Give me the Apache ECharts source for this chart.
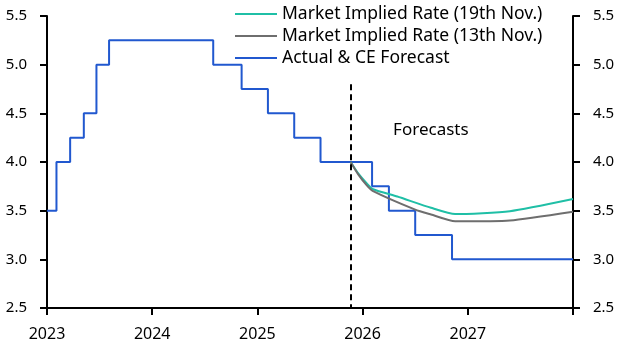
<!DOCTYPE html>
<html>
<head>
    <meta charset="utf-8" />
    <title>Policy rate</title>
    <script src="https://cdn.jsdelivr.net/npm/echarts@6/dist/echarts.min.js"></script>
    <style>
        html, body { margin: 0; padding: 0; background: #fff; }
        #chart { width: 628px; height: 353px; }
    </style>
</head>
<body>
    <div id="chart"></div>
    <script type="text/javascript">
        // 实际利率及CE预测（阶梯）: [年份小数, 利率]
        const actualCE = [
            [2023.0, 3.5], [2023.09, 4.0], [2023.22, 4.25], [2023.35, 4.5],
            [2023.47, 5.0], [2023.59, 5.25], [2024.58, 5.0], [2024.85, 4.75],
            [2025.10, 4.5], [2025.35, 4.25], [2025.60, 4.0], [2026.09, 3.75],
            [2026.25, 3.5], [2026.50, 3.25], [2026.85, 3.0], [2028.0, 3.0]
        ];
        // 市场隐含利率 19th Nov.
        const implied19 = [
            [2025.886, 4.0], [2025.96, 3.88], [2026.04, 3.78], [2026.10, 3.72],
            [2026.33, 3.645], [2026.65, 3.53], [2026.88, 3.465], [2027.40, 3.495],
            [2028.0, 3.62]
        ];
        // 市场隐含利率 13th Nov.
        const implied13 = [
            [2025.886, 4.0], [2025.96, 3.87], [2026.04, 3.76], [2026.10, 3.70],
            [2026.50, 3.51], [2026.65, 3.46], [2026.88, 3.39], [2027.40, 3.40],
            [2028.0, 3.49]
        ];
        const forecastStart = 2025.886;
        const forecastLineTop = 4.8;
        const forecastLabelPos = [2026.29, 4.33];
        const yearTicks = [2023, 2024, 2025, 2026, 2027];

        const chart = echarts.init(document.getElementById('chart'));
        const font = 'Noto Sans';
        const axisLine = { show: true, lineStyle: { color: '#000', width: 2 } };
        const axisTick = { show: true, length: 7, lineStyle: { color: '#000', width: 2 } };

        const option = {
            backgroundColor: '#fff',
            animation: false,
            textStyle: { fontFamily: font },
            grid: { left: 47, right: 55, top: 16, bottom: 45 },
            legend: {
                orient: 'vertical',
                left: 230,
                top: 0,
                padding: 5,
                itemWidth: 42,
                itemHeight: 2,
                itemGap: 4,
                icon: 'rect',
                textStyle: { fontFamily: font, fontSize: 17.5, color: '#000' },
                data: ['Market Implied Rate (19th Nov.)', 'Market Implied Rate (13th Nov.)', 'Actual & CE Forecast']
            },
            xAxis: {
                type: 'value',
                min: 2023,
                max: 2028,
                interval: 1,
                splitLine: { show: false },
                axisLine: axisLine,
                axisTick: axisTick,
                axisLabel: {
                    margin: 18,
                    fontSize: 16,
                    color: '#000',
                    formatter: function (v) { return yearTicks.indexOf(v) >= 0 ? String(v) : ''; }
                }
            },
            yAxis: [{
                type: 'value',
                min: 2.5,
                max: 5.5,
                interval: 0.5,
                position: 'left',
                splitLine: { show: false },
                axisLine: axisLine,
                axisTick: axisTick,
                axisLabel: { margin: 20, fontSize: 15, color: '#000', formatter: function (v) { return v.toFixed(1); } }
            }, {
                type: 'value',
                min: 2.5,
                max: 5.5,
                interval: 0.5,
                position: 'right',
                splitLine: { show: false },
                axisLine: axisLine,
                axisTick: axisTick,
                axisLabel: { margin: 20, fontSize: 15, color: '#000', formatter: function (v) { return v.toFixed(1); } }
            }],
            series: [{
                name: 'Market Implied Rate (19th Nov.)',
                type: 'line',
                data: implied19,
                showSymbol: false,
                symbol: 'none',
                smooth: 0.2,
                z: 3,
                lineStyle: { color: '#1fbfa6', width: 2 },
                itemStyle: { color: '#1fbfa6' }
            }, {
                name: 'Market Implied Rate (13th Nov.)',
                type: 'line',
                data: implied13,
                showSymbol: false,
                symbol: 'none',
                smooth: 0.2,
                z: 3,
                lineStyle: { color: '#6e6e6e', width: 2 },
                itemStyle: { color: '#6e6e6e' }
            }, {
                name: 'Actual & CE Forecast',
                type: 'line',
                step: 'end',
                data: actualCE,
                showSymbol: false,
                symbol: 'none',
                z: 2,
                lineStyle: { color: '#2158cf', width: 2 },
                itemStyle: { color: '#2158cf' },
                markLine: {
                    silent: true,
                    symbol: 'none',
                    label: { show: false },
                    lineStyle: { color: '#000', type: [6, 4], width: 2 },
                    data: [[
                        { coord: [forecastStart, forecastLineTop] },
                        { coord: [forecastStart, 2.5] }
                    ]]
                },
                markPoint: {
                    silent: true,
                    symbol: 'circle',
                    symbolSize: 0,
                    label: {
                        show: true,
                        position: 'right',
                        distance: 0,
                        formatter: 'Forecasts',
                        fontFamily: font,
                        fontSize: 17,
                        color: '#000'
                    },
                    data: [{ coord: forecastLabelPos }]
                }
            }]
        };
        chart.setOption(option);
    </script>
</body>
</html>
